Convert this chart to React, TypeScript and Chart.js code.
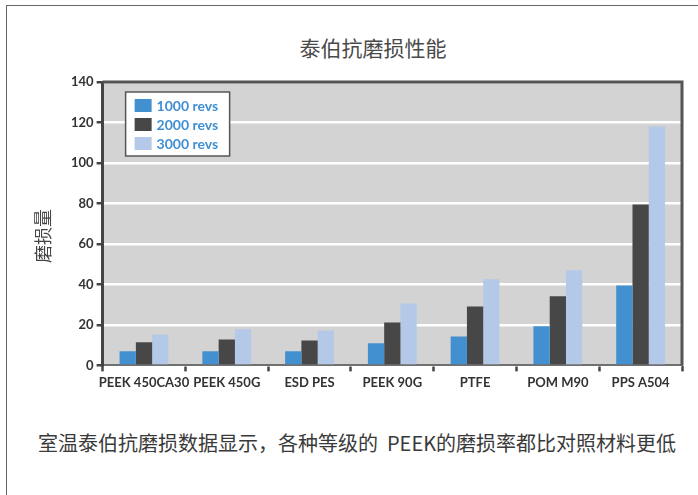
import React, { useEffect, useRef } from "react";
import { Chart, registerables } from "chart.js";

Chart.register(...registerables);

const categories = ["PEEK 450CA30", "PEEK 450G", "ESD PES", "PEEK 90G", "PTFE", "POM M90", "PPS A504"];
const seriesLabels = ["1000 revs", "2000 revs", "3000 revs"];
const revs1000 = [7, 7, 7, 11, 14.3, 19.3, 39.5];
const revs2000 = [11.4, 12.8, 12.3, 21.2, 29.1, 34.1, 79.5];
const revs3000 = [15.3, 17.8, 17.3, 30.6, 42.5, 47, 118];
const seriesColors = ["#4290cf", "#474747", "#b4c9e8"];
const yTicks = [0, 20, 40, 60, 80, 100, 120, 140];

const titleText = "泰伯抗磨损性能";
const yTitle = "磨损量";
const captionText = "室温泰伯抗磨损数据显示，各种等级的\u00a0 PEEK的磨损率都比对照材料更低";

const plotBgPlugin = {
  id: "plotBg",
  beforeDraw(chart: any) {
    const { ctx, chartArea } = chart;
    ctx.save();
    ctx.fillStyle = "#d3d3d3";
    ctx.fillRect(chartArea.left, chartArea.top, chartArea.right - chartArea.left, chartArea.bottom - chartArea.top);
    ctx.restore();
  },
  afterDraw(chart: any) {
    const { ctx, chartArea } = chart;
    ctx.save();
    ctx.strokeStyle = "#555555";
    ctx.lineWidth = 3;
    ctx.beginPath();
    ctx.moveTo(chartArea.left, chartArea.top);
    ctx.lineTo(chartArea.right, chartArea.top);
    ctx.lineTo(chartArea.right, chartArea.bottom);
    ctx.stroke();
    // y-axis title
    ctx.translate(43, 236);
    ctx.rotate(-Math.PI / 2);
    ctx.font = "18px 'Noto Sans CJK SC'";
    ctx.fillStyle = "#444444";
    ctx.textAlign = "center";
    ctx.textBaseline = "middle";
    ctx.fillText(yTitle, 0, 0);
    ctx.restore();
  },
};

const boxLegendPlugin = {
  id: "boxLegend",
  afterDraw(chart: any) {
    const { ctx, chartArea } = chart;
    const x = chartArea.left + 23;
    const y = chartArea.top + 10;
    const w = 104;
    const h = 64;
    ctx.save();
    ctx.fillStyle = "#ffffff";
    ctx.fillRect(x, y, w, h);
    ctx.strokeStyle = "#555555";
    ctx.lineWidth = 1.5;
    ctx.strokeRect(x, y, w, h);
    ctx.font = "bold 14px Lato";
    ctx.textBaseline = "middle";
    chart.data.datasets.forEach((ds: any, i: number) => {
      const cy = y + 13.5 + i * 19;
      ctx.fillStyle = ds.backgroundColor;
      ctx.fillRect(x + 9, cy - 6.5, 17, 13);
      ctx.fillStyle = "#3f8fd2";
      ctx.fillText(ds.label, x + 31, cy + 0.5);
    });
    ctx.restore();
  },
};

export default function App() {
  const ref = useRef<HTMLCanvasElement | null>(null);

  useEffect(() => {
    if (!ref.current) return;
    const chart = new Chart(ref.current, {
      type: "bar",
      data: {
        labels: categories,
        datasets: [revs1000, revs2000, revs3000].map((d, i) => ({
          label: seriesLabels[i],
          data: d,
          backgroundColor: seriesColors[i],
          borderWidth: 0,
          categoryPercentage: 0.59,
          barPercentage: 1.0,
        })),
      },
      options: {
        animation: false,
        responsive: false,
        devicePixelRatio: 1,
        layout: { padding: { left: 68, right: 16, top: 82, bottom: 5 } },
        plugins: {
          legend: { display: false },
          tooltip: { enabled: false },
          title: { display: false },
        },
        scales: {
          x: {
            offset: true,
            grid: {
              display: true,
              offset: true,
              drawOnChartArea: false,
              drawTicks: true,
              tickLength: 6,
              tickColor: "#444444",
              tickWidth: 2.5,
            },
            border: { display: true, color: "#707070", width: 2 },
            ticks: {
              color: "#333333",
              font: { family: "Lato", weight: "bold", size: 13 },
              padding: 4,
              maxRotation: 0,
              autoSkip: false,
            },
          },
          y: {
            min: 0,
            max: 140,
            afterBuildTicks(scale: any) {
              scale.ticks = yTicks.map((v) => ({ value: v }));
            },
            grid: {
              color: "#ffffff",
              lineWidth: 2.5,
              drawTicks: true,
              tickLength: 6,
              tickColor: "#444444",
              tickWidth: 2.5,
            },
            border: { display: true, color: "#444444", width: 3 },
            ticks: {
              color: "#333333",
              font: { family: "Lato", weight: "bold", size: 13 },
              padding: 3,
            },
          },
        },
      },
      plugins: [plotBgPlugin, boxLegendPlugin],
    } as any);
    return () => chart.destroy();
  }, []);

  return (
    <div
      style={{
        position: "fixed",
        left: 0,
        top: 0,
        width: 698,
        height: 495,
        overflow: "hidden",
        background: "#ffffff",
      }}
    >
      <div
        style={{
          position: "absolute",
          left: 6,
          top: 5,
          width: 1000,
          height: 1000,
          border: "1.5px solid #666666",
        }}
      />
      <div
        style={{
          position: "absolute",
          left: 0,
          top: 34,
          width: 746,
          textAlign: "center",
          fontFamily: "'Noto Sans CJK SC', sans-serif",
          fontSize: 21,
          lineHeight: "26px",
          color: "#4a4a4a",
        }}
      >
        {titleText}
      </div>
      <canvas
        ref={ref}
        width={698}
        height={400}
        style={{ position: "absolute", left: 0, top: 0, width: 698, height: 400 }}
      />
      <div
        style={{
          position: "absolute",
          left: 38,
          top: 430,
          whiteSpace: "nowrap",
          fontFamily: "'Noto Sans CJK SC', sans-serif",
          fontSize: 20,
          lineHeight: "26px",
          color: "#3a3a3a",
        }}
      >
        {captionText}
      </div>
    </div>
  );
}
